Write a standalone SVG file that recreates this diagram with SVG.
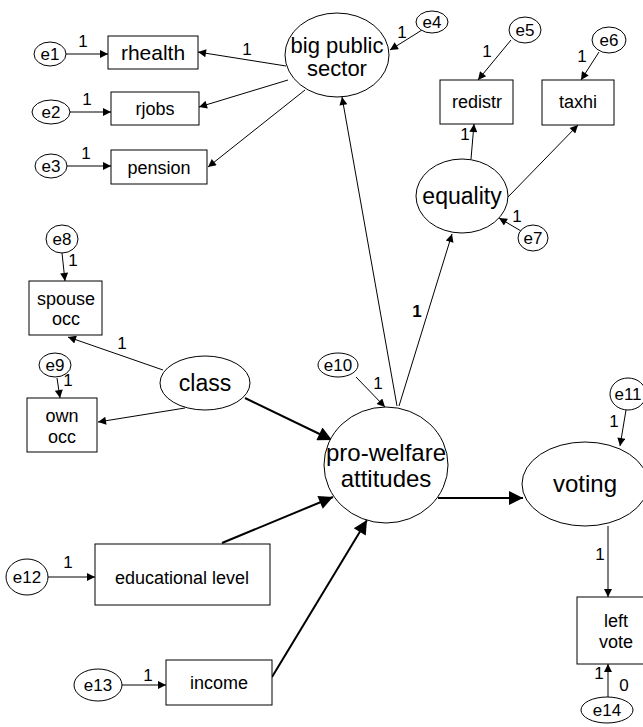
<svg xmlns="http://www.w3.org/2000/svg" width="643" height="727" viewBox="0 0 643 727">
<style>
.n ellipse,.n rect{fill:#fff;stroke:#000;stroke-width:1}
text{font-family:"Liberation Sans",Arial,sans-serif;fill:#000;text-anchor:middle}
.e{font-size:17px}
.o{font-size:18px}
.L{font-size:23px}
.lb{font-size:17px}
.c line{stroke:#000;stroke-width:1;marker-end:url(#a)}
.c line.t{stroke-width:2;marker-end:url(#A)}
</style>
<defs>
<marker id="a" viewBox="0 0 10 10" refX="10" refY="5" markerWidth="11" markerHeight="8" orient="auto" markerUnits="userSpaceOnUse"><path d="M0,0L10,5L0,10z" fill="#000"/></marker>
<marker id="A" viewBox="0 0 10 10" refX="10" refY="5" markerWidth="20" markerHeight="14" orient="auto" markerUnits="userSpaceOnUse"><path d="M0,0L10,5L0,10z" fill="#000"/></marker>
</defs>
<rect width="643" height="727" fill="#fff"/>
<g class="c" id="connectors">
<line x1="66" y1="54" x2="108" y2="54"/>
<line x1="70" y1="112" x2="111" y2="112"/>
<line x1="67" y1="166" x2="111" y2="166"/>
<line x1="286" y1="66" x2="198" y2="52"/>
<line x1="288" y1="80" x2="199" y2="107"/>
<line x1="305" y1="90" x2="208" y2="167"/>
<line x1="422" y1="30" x2="390" y2="50"/>
<line x1="511" y1="40" x2="478" y2="80"/>
<line x1="599" y1="52" x2="581" y2="80"/>
<line x1="471" y1="159" x2="474" y2="124"/>
<line x1="508" y1="197" x2="578" y2="125"/>
<line x1="521" y1="231" x2="499" y2="218"/>
<line x1="397" y1="406" x2="342" y2="97"/>
<line x1="399" y1="406" x2="452" y2="234"/>
<line x1="356" y1="377" x2="385" y2="407"/>
<line x1="62" y1="253" x2="65" y2="281"/>
<line x1="57" y1="378" x2="60" y2="398"/>
<line x1="163" y1="370" x2="68" y2="337"/>
<line x1="185" y1="408" x2="98" y2="422"/>
<line class="t" x1="245" y1="398" x2="332" y2="440"/>
<line class="t" x1="222" y1="543" x2="333" y2="497"/>
<line class="t" x1="272" y1="677" x2="367" y2="520"/>
<line class="t" x1="438" y1="498" x2="523" y2="498"/>
<line x1="626" y1="410" x2="620" y2="446"/>
<line x1="608" y1="526" x2="608" y2="597"/>
<line x1="608" y1="697" x2="608" y2="664"/>
<line x1="48" y1="577" x2="95" y2="577"/>
<line x1="122" y1="685" x2="166" y2="685"/>
</g>
<g id="labels" class="lb">
<text x="83" y="47">1</text>
<text x="87" y="105">1</text>
<text x="86" y="159">1</text>
<text x="247" y="55">1</text>
<text x="402" y="38">1</text>
<text x="487" y="57">1</text>
<text x="582" y="62">1</text>
<text x="465" y="140">1</text>
<text x="517" y="222">1</text>
<text x="417" y="317" font-weight="bold">1</text>
<text x="378" y="389">1</text>
<text x="73" y="266">1</text>
<text x="68" y="386">1</text>
<text x="122" y="349">1</text>
<text x="614" y="427">1</text>
<text x="600" y="560">1</text>
<text x="599" y="679">1</text>
<text x="624" y="691">0</text>
<text x="68" y="568">1</text>
<text x="148" y="681">1</text>
</g>
<g class="n" id="e1"><ellipse cx="50" cy="54" rx="16" ry="12"/><text class="e" x="50" y="60">e1</text></g>
<g class="n" id="e2"><ellipse cx="51" cy="112" rx="19" ry="12"/><text class="e" x="51" y="118">e2</text></g>
<g class="n" id="e3"><ellipse cx="51" cy="166" rx="16" ry="12"/><text class="e" x="51" y="172">e3</text></g>
<g class="n" id="rhealth"><rect x="108" y="36" width="90" height="33"/><text x="153" y="60" font-size="21px">rhealth</text></g>
<g class="n" id="rjobs"><rect x="111" y="92" width="88" height="33"/><text class="o" x="155" y="115">rjobs</text></g>
<g class="n" id="pension"><rect x="111" y="150" width="96" height="34"/><text class="o" x="159" y="174">pension</text></g>
<g class="n" id="bigpublic"><ellipse cx="337" cy="55" rx="52" ry="42"/><text x="337" y="53" font-size="22px">big public</text><text x="337" y="76" font-size="22px">sector</text></g>
<g class="n" id="e4"><ellipse cx="432" cy="22" rx="16" ry="11"/><text class="e" x="432" y="28">e4</text></g>
<g class="n" id="e5"><ellipse cx="525" cy="30" rx="16" ry="13"/><text class="e" x="525" y="36">e5</text></g>
<g class="n" id="e6"><ellipse cx="609" cy="40" rx="17" ry="13"/><text class="e" x="609" y="46">e6</text></g>
<g class="n" id="redistr"><rect x="440" y="80" width="73" height="44"/><text class="o" x="477" y="108">redistr</text></g>
<g class="n" id="taxhi"><rect x="542" y="80" width="72" height="45"/><text class="o" x="578" y="108">taxhi</text></g>
<g class="n" id="equality"><ellipse cx="462" cy="196" rx="46" ry="37"/><text class="L" x="462" y="204">equality</text></g>
<g class="n" id="e7"><ellipse cx="533" cy="238" rx="15" ry="13"/><text class="e" x="533" y="244">e7</text></g>
<g class="n" id="e8"><ellipse cx="62" cy="239" rx="16" ry="14"/><text class="e" x="62" y="245">e8</text></g>
<g class="n" id="spouseocc"><rect x="29" y="281" width="73" height="54"/><text class="o" x="66" y="305">spouse</text><text class="o" x="66" y="325">occ</text></g>
<g class="n" id="e9"><ellipse cx="55" cy="365" rx="16" ry="12"/><text class="e" x="55" y="371">e9</text></g>
<g class="n" id="ownocc"><rect x="27" y="398" width="70" height="54"/><text class="o" x="62" y="422">own</text><text class="o" x="62" y="443">occ</text></g>
<g class="n" id="class"><ellipse cx="205" cy="383" rx="45" ry="27"/><text class="L" x="205" y="391">class</text></g>
<g class="n" id="e10"><ellipse cx="338" cy="365" rx="20" ry="12"/><text class="e" x="338" y="371">e10</text></g>
<g class="n" id="prowelfare"><ellipse cx="386" cy="465" rx="62" ry="58"/><text x="386" y="461" font-size="24px">pro-welfare</text><text x="386" y="487" font-size="24px">attitudes</text></g>
<g class="n" id="e11"><ellipse cx="628" cy="394" rx="18" ry="16"/><text class="e" x="628" y="400">e11</text></g>
<g class="n" id="voting"><ellipse cx="585" cy="484" rx="63" ry="42"/><text x="585" y="492" font-size="24px">voting</text></g>
<g class="n" id="leftvote"><rect x="577" y="597" width="78" height="67"/><text class="o" x="616" y="627">left</text><text class="o" x="616" y="648">vote</text></g>
<g class="n" id="e14"><ellipse cx="607" cy="710" rx="26" ry="13"/><text class="e" x="607" y="716">e14</text></g>
<g class="n" id="e12"><ellipse cx="27" cy="577" rx="21" ry="18"/><text class="e" x="27" y="583">e12</text></g>
<g class="n" id="edulevel"><rect x="95" y="544" width="175" height="61"/><text class="o" x="182" y="584">educational level</text></g>
<g class="n" id="e13"><ellipse cx="98" cy="685" rx="24" ry="16"/><text class="e" x="98" y="691">e13</text></g>
<g class="n" id="income"><rect x="166" y="660" width="106" height="45"/><text class="o" x="219" y="689">income</text></g>
</svg>
